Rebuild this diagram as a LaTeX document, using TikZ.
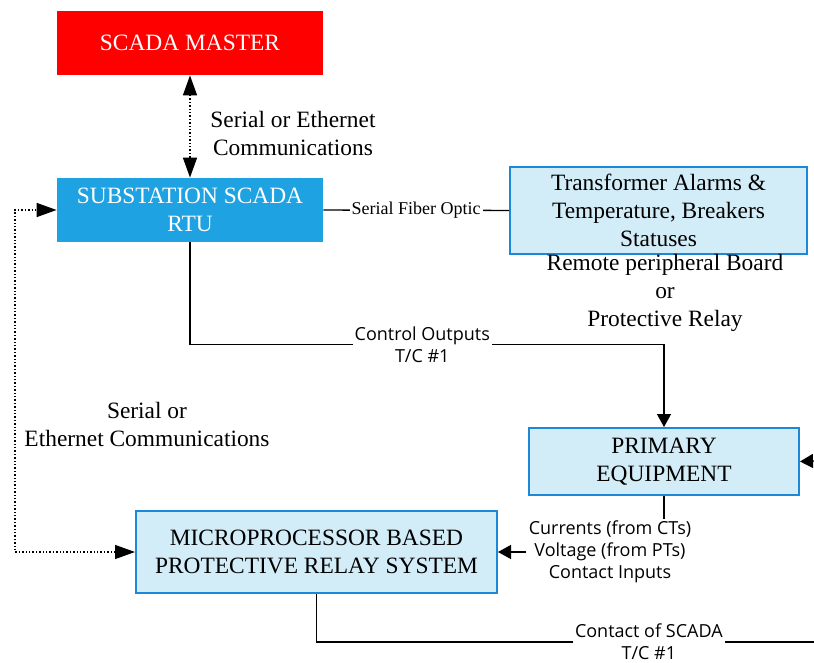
\documentclass[tikz,border=0pt]{standalone}
\usepackage{fontspec}
\setmainfont{Liberation Serif}
\newfontfamily\sigfont{Open Sans}
\usetikzlibrary{arrows.meta,positioning}

\definecolor{masterred}{RGB}{255,0,0}
\definecolor{rtublue}{RGB}{30,162,226}
\definecolor{edgeblue}{RGB}{30,136,216}
\definecolor{paleblue}{RGB}{210,236,248}

\begin{document}
\begin{tikzpicture}[x=0.5pt, y=-0.5pt,
            master/.style={fill=masterred, text=white, minimum width=133pt, minimum height=32pt, align=center, font=\fontsize{11.7}{14}\selectfont},
            rtu/.style={fill=rtublue, text=white, minimum width=133pt, minimum height=32pt, align=center, font=\fontsize{11.7}{14}\selectfont},
            unit/.style={draw=edgeblue, fill=paleblue, line width=1pt, align=center, font=\fontsize{11.7}{14}\selectfont},
            note/.style={align=center, font=\fontsize{11.7}{14}\selectfont},
            sig/.style={align=center, inner sep=1pt, font=\sigfont\fontsize{9}{11}\selectfont},
            link/.style={line width=0.7pt},
            arrow/.style={-{Triangle[length=6.5pt, width=7pt]}, line width=0.7pt},
            comm/.style={{Triangle[length=10pt, width=7pt]}-{Triangle[length=10pt, width=7pt]}, densely dotted, line width=0.7pt}
        ]
        \useasboundingbox (0,0) rectangle (814,663);

        \node[master] (master) at (190,43) {SCADA MASTER};
        \node[rtu] (rtu) at (190,210) {SUBSTATION SCADA\\RTU};
        \node[unit, minimum width=148.5pt, minimum height=41.5pt] (trafo) at (658.5,210.5) {Transformer Alarms \&\\Temperature, Breakers\\Statuses};
        \node[note] (remote) at (665,293) {Remote peripheral Board\\or\\Protective Relay};
        \node[unit, minimum width=135pt, minimum height=33.5pt] (prim) at (664,461.5) {PRIMARY\\EQUIPMENT};
        \node[unit, minimum width=180.5pt, minimum height=41pt] (relay) at (316.5,552) {MICROPROCESSOR BASED\\PROTECTIVE RELAY SYSTEM};
        \node[sig] (meas) at (610,552) {Currents (from CTs)\\Voltage (from PTs)\\Contact Inputs};

        \node[note] (commtop) at (293,133) {Serial or Ethernet\\Communications};
        \node[note] (commleft) at (147,424) {Serial or\\Ethernet Communications};

        \coordinate (feedin) at (814,461);
        \coordinate (feedout) at (814,642);

        \draw[comm] (master.south) -- (rtu.north);
        \draw[link] (rtu.east) -- node[fill=white, inner sep=1pt, font=\fontsize{9}{10}\selectfont] {Serial Fiber Optic} (trafo.west);
        \draw[arrow] (rtu.south) -- ++(0,102) -| node[pos=0.245, sig, fill=white] {Control Outputs\\T/C \#1} (prim.north);
        \draw[link] (prim.south) -- (prim.south |- meas.north);
        \draw[arrow] (meas.west) -- (relay.east);
        \draw[comm] (relay.west) -- ++(-120,0) |- (rtu.west);
        \draw[link] (relay.south) |- node[pos=0.834, sig, fill=white] {Contact of SCADA\\T/C \#1} (feedout);
        \draw[arrow] (feedin) -- (prim.east);

    \end{tikzpicture}
\end{document}
